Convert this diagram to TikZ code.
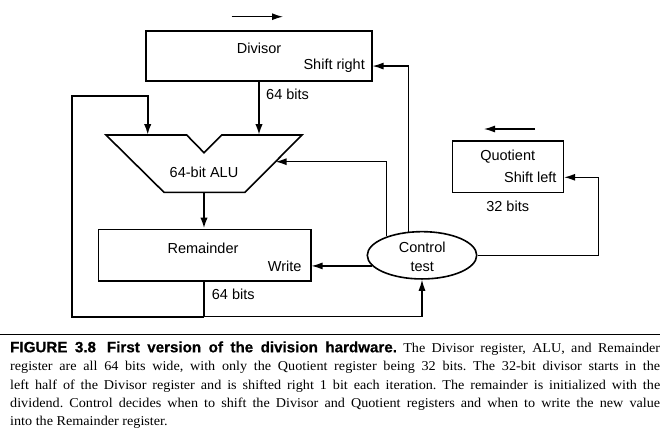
\documentclass[tikz,border=0pt]{standalone}
\usepackage{fontspec}
\setmainfont{Liberation Serif}[FakeStretch=1.05]
\newfontfamily\diafont{Liberation Sans}
\newfontfamily\headfont{Liberation Sans Bold}[FakeStretch=1.01,FakeBold=0.6]
\usetikzlibrary{arrows.meta,shapes.geometric,calc}
\begin{document}
\begin{tikzpicture}[x=1pt,y=-1pt,
  reg/.style={draw,line width=1.6pt,inner sep=0pt,rectangle},
  lbl/.style={font=\diafont\fontsize{14.5}{17}\selectfont,inner sep=0pt},
  bus/.style={line width=2pt,-{Latex[length=11pt,width=7.5pt]}},
  sig/.style={line width=1.25pt,-{Latex[length=11pt,width=7pt]}},
  busline/.style={line width=2pt},
  sigline/.style={line width=1.25pt}]
\useasboundingbox (0,0) rectangle (667,445);

% registers
\node[reg,minimum width=225.7pt,minimum height=50.3pt] (divisor) at (258.85,55.85) {};
\node[lbl] (divt) at (259,48) {Divisor};
\node[lbl,anchor=east] (divs) at (365,66) {Shift right};

\node[reg,minimum width=212.4pt,minimum height=51.7pt] (rem) at (204.5,255.15) {};
\node[lbl] (remt) at (203,248.3) {Remainder};
\node[lbl,anchor=east] (remw) at (301.7,266.7) {Write};

\node[reg,minimum width=111pt,minimum height=51.3pt] (quot) at (507.8,166.65) {};
\node[lbl] (quott) at (507.7,156.7) {Quotient};
\node[lbl,anchor=east] (quots) at (556.7,177.3) {Shift left};

\node[draw,ellipse,line width=1.6pt,minimum width=109.4pt,minimum height=47.3pt,inner sep=0pt] (ctrl) at (422,255.3) {};
\node[lbl,align=center,font=\diafont\fontsize{14.5}{19}\selectfont] (ctrlt) at (422.2,257) {Control\\test};

% ALU
\draw[line width=1.6pt,line join=miter] (106,135) -- (186.7,135) -- (204,152.7) -- (221.7,135) -- (302,135) -- (245,192.3) -- (164,192.3) -- cycle;
\node[lbl] (alu) at (204,172.7) {64-bit ALU};
\coordinate (aluL) at (147.7,135);
\coordinate (aluR) at (259,135);
\coordinate (aluB) at (204,192.3);
\coordinate (aluC) at (275.5,161.7);

% direction arrows
\coordinate (da1) at (231.7,16.7);
\coordinate (da2) at (283,16.7);
\coordinate (qa1) at (535,129);
\coordinate (qa2) at (484,129);
\draw[sig] (da1) -- (da2);
\draw[sig] (qa1) -- (qa2);

% data paths
\draw[bus] (divisor.south -| aluR) -- (aluR);
\node[lbl,anchor=west] (l64a) at (266,94) {64 bits};
\draw[bus] (aluB) -- (rem.north -| aluB);

\coordinate (lb) at (204,316.7);
\coordinate (ll) at (71.7,316.7);
\coordinate (lt) at (71.7,95.7);
\draw[busline] (rem.south -| lb) -- (lb);
\draw[bus] (lb) -- (ll) -- (lt) -| (aluL);
\node[lbl,anchor=west] (l64b) at (211.7,294) {64 bits};
\draw[sig] (lb) -| (ctrl.south);

% control signals
\draw[sig] (ctrl.119) |- ([yshift=-10.2pt]divisor.east);
\draw[sig] (ctrl.152) |- (aluC);
\draw[sig] (ctrl.192) -- (ctrl.192 -| rem.east);
\coordinate (qx) at (598.3,255.3);
\draw[sig] (ctrl.east) -- (qx) |- ([yshift=-10.65pt]quot.east);
\node[lbl] (l32) at (507.7,206) {32 bits};

% caption
\coordinate (r1) at (0,334.3);
\coordinate (r2) at (660,334.3);
\draw[line width=1pt] (r1) -- (r2);
\node[anchor=base west,inner sep=0pt,text width=650pt,align=justify,
  font=\fontsize{13.5}{18.4}\selectfont] (cap) at (10,352.3)
{\tolerance=10000\frenchspacing {\headfont\fontsize{15}{18.4}\selectfont FIGURE 3.8\hspace{11pt}First version of the division hardware.} The Divisor register, ALU, and Remainder\linebreak
register are all 64 bits wide, with only the Quotient register being 32 bits. The 32-bit divisor starts in the\linebreak
left half of the Divisor register and is shifted right 1 bit each iteration. The remainder is initialized with the\linebreak
dividend. Control decides when to shift the Divisor and Quotient registers and when to write the new value\linebreak
into the Remainder register.\par};
\end{tikzpicture}
\end{document}
